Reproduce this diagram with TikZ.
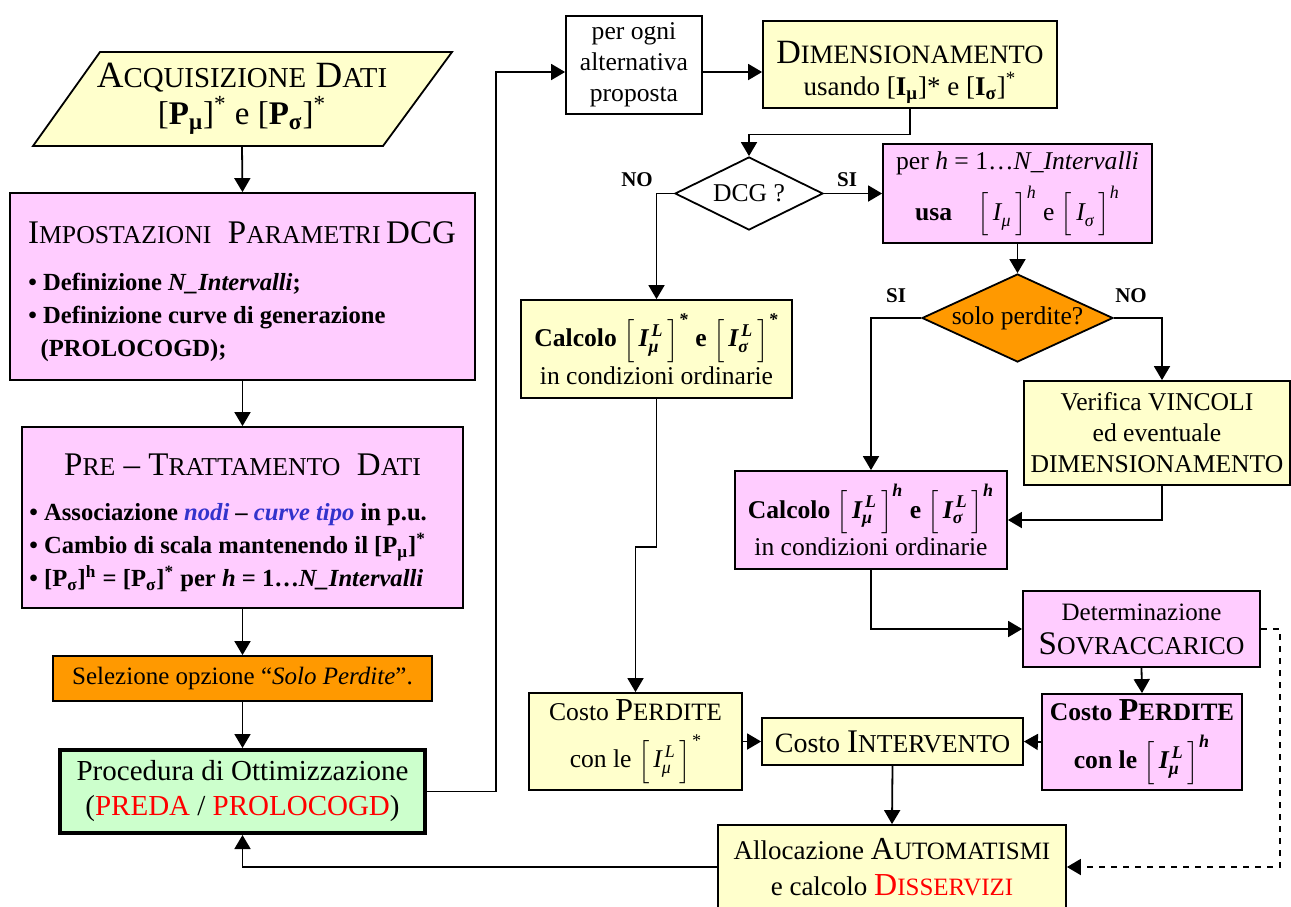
\documentclass[tikz,border=0pt]{standalone}
\usepackage{fontspec}
\setmainfont{Liberation Serif}
\usepackage{amsmath}
\usepackage{graphicx}
\usetikzlibrary{arrows.meta,shapes.geometric}

\definecolor{boxyellow}{HTML}{FFFFCC}
\definecolor{boxpink}{HTML}{FFCCFF}
\definecolor{boxorange}{HTML}{FF9900}
\definecolor{boxgreen}{HTML}{CCFFCC}
\definecolor{nodeblue}{HTML}{3333CC}

% small capitals after a large initial
\newcommand{\kap}[1]{\scalebox{0.78}{#1}}
% bracketed vectors
\newcommand{\Pb}[1]{[\textbf{P}\textsubscript{\textbf{#1}}]}
\newcommand{\Ib}[1]{[\textbf{I}\textsubscript{\textbf{#1}}]}
\newcommand{\Ivec}[3]{\ensuremath{\Bigl[\,\textit{I}^{\,\textit{#2}}_{\textit{#1}}\,\Bigr]^{\textit{#3}}}}

\tikzset{
  box/.style={draw, line width=0.9pt, inner sep=2pt, align=center},
  ybox/.style={box, fill=boxyellow},
  pbox/.style={box, fill=boxpink},
  txt/.style={font=\fontsize{12.8}{15.5}\selectfont},
  big/.style={font=\fontsize{16.5}{19}\selectfont},
  list/.style={font=\fontsize{12.3}{16.5}\selectfont\bfseries, align=left, anchor=north west, inner sep=0pt},
  yn/.style={font=\fontsize{10.5}{12}\selectfont\bfseries},
  arr/.style={-{Triangle[length=7pt,width=8pt]}, line width=0.9pt},
}

\begin{document}
\begin{tikzpicture}[x=0.5pt, y=-0.5pt]
\useasboundingbox (0,0) rectangle (1291,906);
\clip (0,0) rectangle (1291,906);

% left column
\draw[fill=boxyellow, line width=0.9pt] (33,146) -- (383,146) -- (452,52) -- (100,52) -- cycle;
\node[align=center, minimum height=47pt, inner sep=0pt] (acq) at (242,99)
  {\fontsize{18.5}{21}\selectfont A\kap{CQUISIZIONE} D\kap{ATI}\\[1pt]
   \fontsize{16.5}{20}\selectfont\Pb{μ}\textsuperscript{*} e \Pb{σ}\textsuperscript{*}};

\node[pbox, minimum width=232.5pt, minimum height=93.5pt] (imp) at (242.5,286.5) {};
\node[big] (impT) at (242,233) {I\kap{MPOSTAZIONI}\ \ P\kap{ARAMETRI}\,DCG};
\node[list] (impL) at (28,273) {• Definizione \textit{N\_Intervalli};\\• Definizione curve di generazione\\\ \ (PROLOCOGD);};

\node[pbox, minimum width=220.5pt, minimum height=90.5pt] (pre) at (242.5,517.5) {};
\node[big] (preT) at (242.5,465) {P\kap{RE} – T\kap{RATTAMENTO}\ \ D\kap{ATI}};
\node[list] (preL) at (29,503) {• Associazione \textcolor{nodeblue}{\textit{nodi}} – \textcolor{nodeblue}{\textit{curve tipo}} in p.u.\\
  • Cambio di scala mantenendo il \Pb{μ}\textsuperscript{*}\\
  • \Pb{σ}\textsuperscript{h} = \Pb{σ}\textsuperscript{*} per \textit{h} = 1…\textit{N\_Intervalli}};

\node[box, fill=boxorange, minimum width=189.5pt, minimum height=22.5pt, font=\fontsize{12.5}{15}\selectfont] (sel) at (242.5,678.5)
  {Selezione opzione “\textit{Solo Perdite}”.};
\node[box, fill=boxgreen, line width=2pt, minimum width=182.5pt, minimum height=41.5pt, font=\fontsize{14.5}{17.5}\selectfont] (ott) at (242.5,791.5)
  {Procedura di Ottimizzazione\\(\textcolor{red}{PREDA} / \textcolor{red}{PROLOCOGD})};

% top row
\node[box, fill=white, txt, minimum width=68pt, minimum height=49pt] (ogni) at (634,65) {per ogni\\alternativa\\proposta};
\node[ybox, minimum width=147pt, minimum height=41.5pt] (dim) at (910,64.5)
  {\fontsize{17}{19}\selectfont\rule{0pt}{19pt}D\kap{IMENSIONAMENTO}\\[4pt]\fontsize{13.5}{15}\selectfont usando \Ib{μ}* e \Ib{σ}\textsuperscript{*}};

% decisions
\node[draw, diamond, aspect=2, inner sep=0pt, line width=0.9pt, minimum width=74pt, minimum height=36.5pt, txt] (dcg) at (749,193.5) {DCG ?};
\node[pbox, txt, minimum width=134.5pt, minimum height=49.5pt] (perh) at (1017.5,193.5)
  {per \textit{h} = 1…\textit{N\_Intervalli}\\[5pt]\textbf{usa}\quad\Ivec{μ}{}{h} e \Ivec{σ}{}{h}};
\node[draw, diamond, aspect=2.2, inner sep=0pt, line width=0.9pt, fill=boxorange, minimum width=95.5pt, minimum height=44pt, txt] (sp) at (1017.5,318) {solo perdite?};

\node[yn] (noA) at (637,180) {NO};
\node[yn] (siA) at (847,180) {SI};
\node[yn] (siB) at (896,296) {SI};
\node[yn] (noB) at (1131,296) {NO};

% computation boxes
\node[ybox, txt, minimum width=135.5pt, minimum height=49pt] (calcS) at (656.5,349)
  {\textbf{Calcolo \Ivec{μ}{L}{*} e \Ivec{σ}{L}{*}}\\[1pt]in condizioni ordinarie};
\node[ybox, txt, minimum width=133pt, minimum height=52pt] (ver) at (1157,433)
  {Verifica VINCOLI\\ed eventuale\\DIMENSIONAMENTO};
\node[pbox, txt, minimum width=136pt, minimum height=49pt] (calcH) at (871,520)
  {\textbf{Calcolo \Ivec{μ}{L}{h} e \Ivec{σ}{L}{h}}\\[1pt]in condizioni ordinarie};
\node[pbox, minimum width=118.5pt, minimum height=38pt] (det) at (1141.5,629)
  {\fontsize{12.5}{14}\selectfont Determinazione\\[5pt]\fontsize{16.5}{18}\selectfont S\kap{OVRACCARICO}};

% costs
\node[ybox, txt, minimum width=106.5pt, minimum height=48.5pt] (cpS) at (635.5,741.5)
  {Costo {\fontsize{16}{18}\selectfont P\kap{ERDITE}}\\[6pt]con le \Ivec{μ}{L}{*}};
\node[ybox, font=\fontsize{14}{16}\selectfont, minimum width=130.5pt, minimum height=23.5pt] (cint) at (892.5,741.5)
  {Costo {\fontsize{16.5}{18}\selectfont I\kap{NTERVENTO}}};
\node[pbox, font=\fontsize{12.8}{15.5}\selectfont\bfseries, minimum width=100pt, minimum height=48pt] (cpH) at (1142,742)
  {Costo {\fontsize{16}{18}\selectfont P\kap{ERDITE}}\\[6pt]con le \Ivec{μ}{L}{h}};
\node[ybox, font=\fontsize{13.5}{16}\selectfont, minimum width=174pt, minimum height=42pt] (alloc) at (892,867)
  {Allocazione {\fontsize{16}{18}\selectfont A\kap{UTOMATISMI}}\\[2pt]e calcolo \textcolor{red}{\fontsize{16}{18}\selectfont D\kap{ISSERVIZI}}};

% connectors
\draw[arr] (acq.south) -- (imp.north);
\draw[arr] (imp.south) -- (pre.north);
\draw[arr] (pre.south) -- (sel.north);
\draw[arr] (sel.south) -- (ott.north);
\draw[arr] (ott.east) -- ++(69,0) |- ([yshift=-3.5pt]ogni.west);
\draw[arr] ([yshift=-3.5pt]ogni.east) -- ([yshift=-3.5pt]ogni.east -| dim.west);
\draw[arr] (dim.south) -- ++(0,26) -| (dcg.north);
\draw[arr] (dcg.east) -- (perh.west);
\draw[arr] (dcg.west) -| (calcS.north);
\draw[arr] (calcS.south) -- ++(0,148) -| (cpS.north);
\draw[arr] (perh.south) -- (sp.north);
\draw[arr] (sp.west) -| (calcH.north);
\draw[arr] (sp.east) -| ([xshift=2.5pt]ver.north);
\draw[arr] ([xshift=2.5pt]ver.south) |- (calcH.east);
\draw[arr] (calcH.south) |- (det.west);
\draw[arr] (det.south) -- (cpH.north);
\draw[arr, dashed] (det.east) -- ++(19,0) |- (alloc.east);
\draw[arr] (cpH.west) -- (cint.east);
\draw[arr] (cpS.east) -- (cint.west);
\draw[arr] (cint.south) -- (alloc.north);
\draw[arr] (alloc.west) -| (ott.south);
\end{tikzpicture}
\end{document}
